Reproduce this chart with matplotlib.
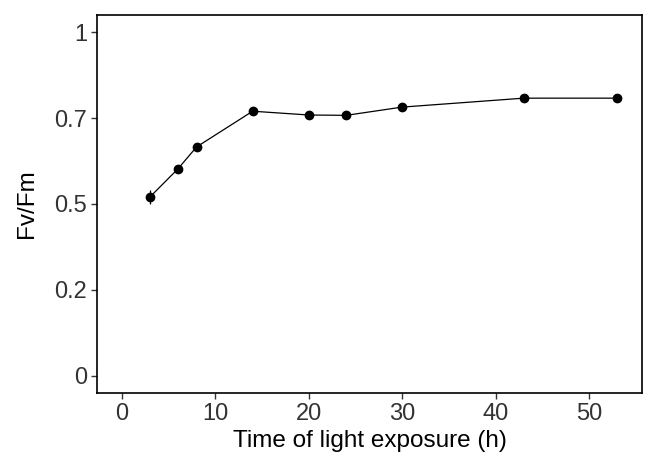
import matplotlib
matplotlib.use("Agg")
import matplotlib.pyplot as plt

hours = [3, 6, 8, 14, 20, 24, 30, 43, 53]
fvfm = [0.520, 0.602, 0.666, 0.770, 0.759, 0.758, 0.782, 0.808, 0.808]
err = [0.02, 0.006, 0.006, 0.005, 0.005, 0.005, 0.005, 0.005, 0.005]
yticks = [0, 0.25, 0.5, 0.75, 1]
yticklabels = ["0", "0.2", "0.5", "0.7", "1"]
xticks = [0, 10, 20, 30, 40, 50]

plt.rcParams['font.family'] = ['Liberation Sans', 'DejaVu Sans']
fig = plt.figure(figsize=(6.49, 4.63), dpi=100)
ax = fig.add_axes([97/649, 1 - 393/463, (642-97)/649, (393-15)/463])
ax.errorbar(hours, fvfm, yerr=err, color='black', lw=0.9, marker='o', ms=6,
            elinewidth=0.9, capsize=0)
ax.set_xlim(-2.65, 55.65)
ax.set_ylim(-0.05, 1.05)
ax.set_yticks(yticks)
ax.set_yticklabels(yticklabels)
ax.set_xticks(xticks)
for s in ax.spines.values():
    s.set_color('black')
    s.set_linewidth(1.2)
ax.tick_params(labelsize=17, colors='#333333', length=4, width=1, labelcolor='#333333', pad=3)
ax.set_xlabel("Time of light exposure (h)", fontsize=17.5, labelpad=4)
ax.set_ylabel("Fv/Fm", fontsize=17.5, labelpad=12)
fig.savefig("out.png", dpi=100)
